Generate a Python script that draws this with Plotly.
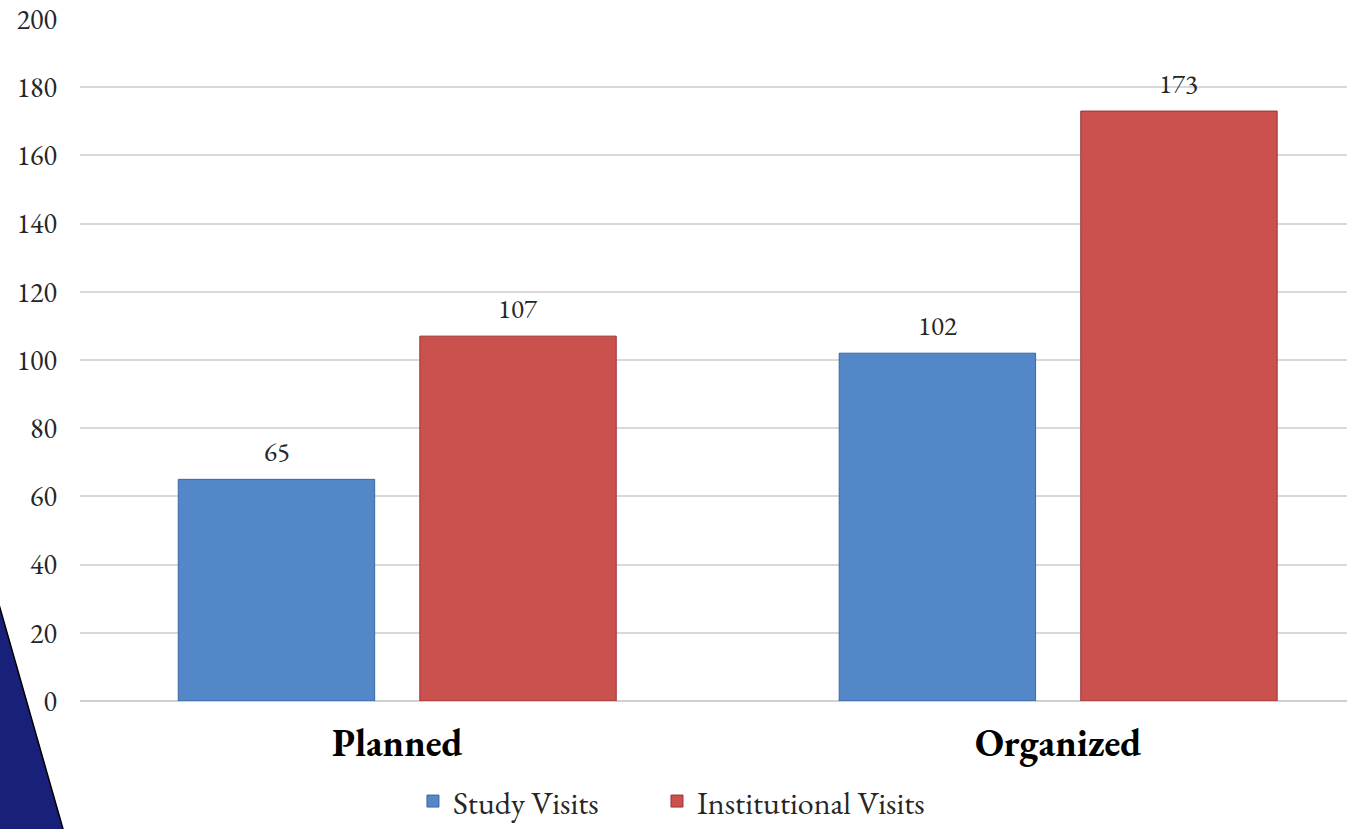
import plotly.graph_objects as go

categories = ["Planned", "Organized"]
study_visits = [65, 102]
institutional_visits = [107, 173]
series_names = ["Study Visits", "Institutional Visits"]
y_ticks = [0, 20, 40, 60, 80, 100, 120, 140, 160, 180, 200]

SERIF = "Garamond, 'EB Garamond', 'Liberation Serif', 'DejaVu Serif', serif"
BAR_SHIFT = 120.75  # px from category centre to each bar centre

fig = go.Figure()
fig.add_trace(go.Bar(
    x=categories, y=study_visits, name=series_names[0], legend="legend",
    marker=dict(color="#5387c8", line=dict(color="#3b68a3", width=1)),
))
fig.add_trace(go.Bar(
    x=categories, y=institutional_visits, name=series_names[1], legend="legend2",
    marker=dict(color="#cb514f", line=dict(color="#993432", width=1)),
))

# value labels above the bars
for vals, shift in [(study_visits, -BAR_SHIFT), (institutional_visits, BAR_SHIFT)]:
    for cat, v in zip(categories, vals):
        fig.add_annotation(
            x=cat, y=v, text=str(v), showarrow=False,
            xshift=shift, yshift=28, yanchor="middle",
            font=dict(family=SERIF, size=27, color="#262626"),
        )

# dark navy wedge in the bottom-left corner
fig.add_shape(
    type="path", xref="paper", yref="paper", layer="below",
    path="M -0.07 0.181 L -0.0134 -0.1877 L -0.0115 -0.2 L -0.07 -0.2 Z",
    fillcolor="#18207a", line=dict(color="#000000", width=1.5),
)

legend_style = dict(
    orientation="h", xanchor="left", y=-0.147, yanchor="middle",
    font=dict(family=SERIF, size=32, color="#262626"),
    itemwidth=30, bgcolor="rgba(0,0,0,0)",
)

fig.update_layout(
    width=1350, height=829,
    margin=dict(l=80, r=3, t=19, b=128, autoexpand=False),
    paper_bgcolor="white", plot_bgcolor="white",
    barmode="group", bargap=0.269, bargroupgap=0.187,
    font=dict(family=SERIF, color="#262626"),
    showlegend=True,
    legend=dict(legend_style, x=0.2628),
    legend2=dict(legend_style, x=0.4554),
    xaxis=dict(
        range=[-0.48, 1.437], showgrid=False, zeroline=False, showline=False,
        tickfont=dict(family=SERIF, size=38, color="#000000"),
        ticklabelstandoff=16, automargin=False,
    ),
    yaxis=dict(
        range=[0, 200], tickvals=y_ticks, showgrid=True,
        gridcolor="#d9d9d9", gridwidth=1.5,
        zeroline=True, zerolinecolor="#d0d0d0", zerolinewidth=2,
        tickfont=dict(family=SERIF, size=28, color="#262626"),
        ticklabelstandoff=22, automargin=False,
    ),
)
fig.update_xaxes(ticktext=["<b>Planned</b>", "<b>Organized</b>"], tickvals=categories)

fig.write_html(
    "out.html",
    config={"displayModeBar": False},
    post_script="document.body.style.margin='0';",
)
